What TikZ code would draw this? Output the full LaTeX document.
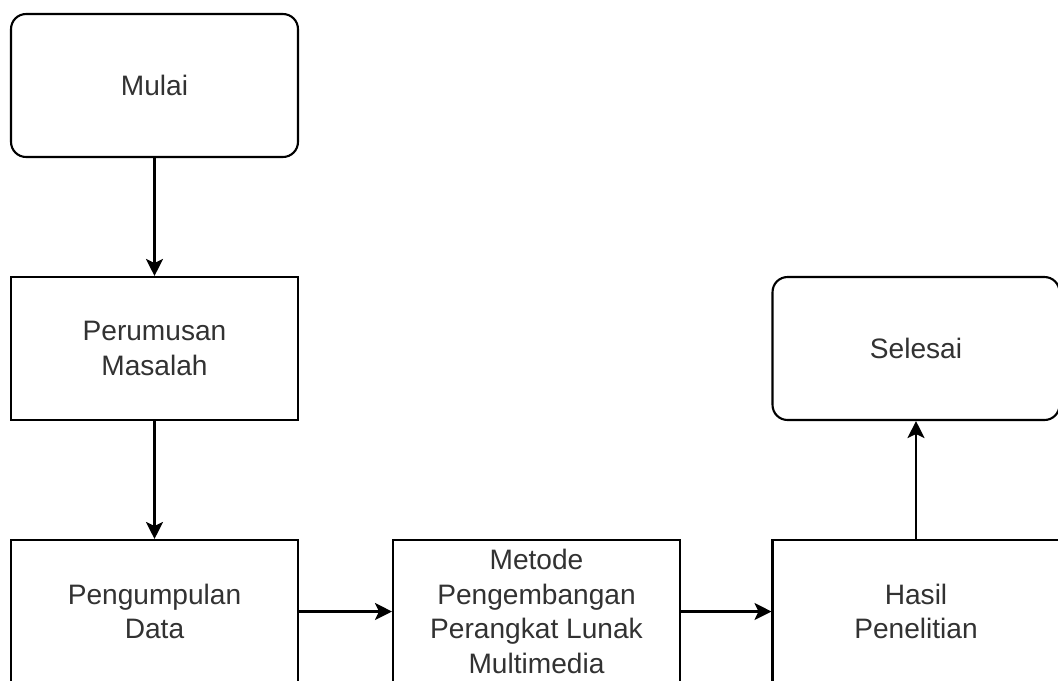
\documentclass[tikz,border=0pt]{standalone}
\usepackage{fontspec}
\setmainfont{Liberation Sans}
\usetikzlibrary{arrows.meta}
\definecolor{FlowText}{RGB}{50,50,50}
\tikzset{
    flowbox/.style={draw=black, line width=1.2pt, fill=white, minimum width=5.74cm, minimum height=2.86cm,
        align=center, text=FlowText, font=\fontsize{16}{19.8}\selectfont, inner sep=0pt},
    terminal/.style={flowbox, rounded corners=0.3cm},
    flowarrow/.style={draw=black, line width=1.2pt, -{Stealth[length=0.34cm, width=0.34cm, inset=0.08cm]}}
}
\begin{document}
\begin{tikzpicture}[x=0.02cm, y=-0.02cm]
\useasboundingbox (0,0) rectangle (1058,680);
%Start and end
\node[terminal] (mulai) at (154.5,85.5) {Mulai};
\node[terminal] (selesai) at (916,348.5) {Selesai};
%Steps
\node[flowbox] (rumusan) at (154.5,348.5) {Perumusan\\Masalah};
\node[flowbox] (kumpul) at (154.5,611.5) {Pengumpulan\\Data};
\node[flowbox] (metode) at (536.5,611.5) {Metode\\Pengembangan\\Perangkat Lunak\\Multimedia};
\node[flowbox] (hasil) at (916,611.5) {Hasil\\Penelitian};
%Arrows
\draw[flowarrow] (mulai) -- (rumusan);
\draw[flowarrow] (rumusan) -- (kumpul);
\draw[flowarrow] (kumpul) -- (metode);
\draw[flowarrow] (metode) -- (hasil);
\draw[flowarrow] (hasil) -- (selesai);
\end{tikzpicture}
\end{document}
